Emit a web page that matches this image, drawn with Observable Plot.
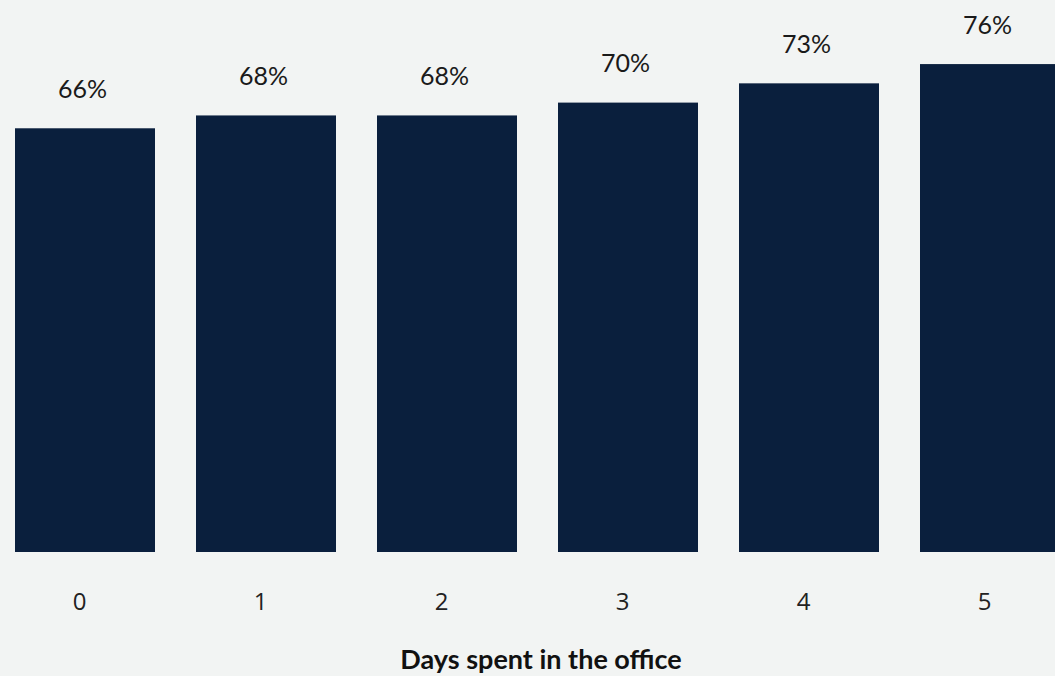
<!DOCTYPE html>
<html>
<head>
<meta charset="utf-8">
<script src="https://cdn.jsdelivr.net/npm/d3@7"></script>
<script src="https://cdn.jsdelivr.net/npm/@observablehq/plot@0.6"></script>
<style>
  html, body { margin: 0; padding: 0; background: #f2f4f3; }
  #chart { width: 1055px; height: 676px; overflow: hidden; }
</style>
</head>
<body>
<div id="chart"></div>
<script>
const days = ["0", "1", "2", "3", "4", "5"];
const shares = [66, 68, 68, 70, 73, 76];
const xLabel = "Days spent in the office";

const data = days.map((d, i) => ({day: d, value: shares[i]}));

const chart = Plot.plot({
  width: 1055,
  height: 676,
  marginTop: 0,
  marginBottom: 0,
  marginLeft: 0,
  marginRight: 0,
  style: {background: "#f2f4f3", color: "#1a1a1a", fontFamily: "Lato, sans-serif"},
  x: {type: "band", domain: days, range: [13, 1062], paddingInner: 0.224, paddingOuter: 0, axis: null},
  y: {domain: [0, 100], range: [552, -90], axis: null},
  marks: [
    Plot.barY(data, {x: "day", y: "value", fill: "#0a1f3d"}),
    Plot.text(data, {x: "day", y: "value", text: d => d.value + "%", dy: -39, dx: -3, lineAnchor: "middle",
      fontSize: 25, fill: "#1a1a1a", fontFamily: "Lato, sans-serif"}),
    Plot.text(data, {x: "day", y: 0, text: "day", dy: 50, dx: -6, lineAnchor: "middle",
      fontSize: 24, fill: "#222", fontFamily: "'Open Sans', sans-serif"}),
    Plot.text([xLabel], {frameAnchor: "bottom", dx: 13, dy: -16, lineAnchor: "middle",
      fontSize: 27, fontWeight: "bold", fill: "#111", fontFamily: "Lato, sans-serif"})
  ]
});
document.getElementById("chart").append(chart);
</script>
</body>
</html>
